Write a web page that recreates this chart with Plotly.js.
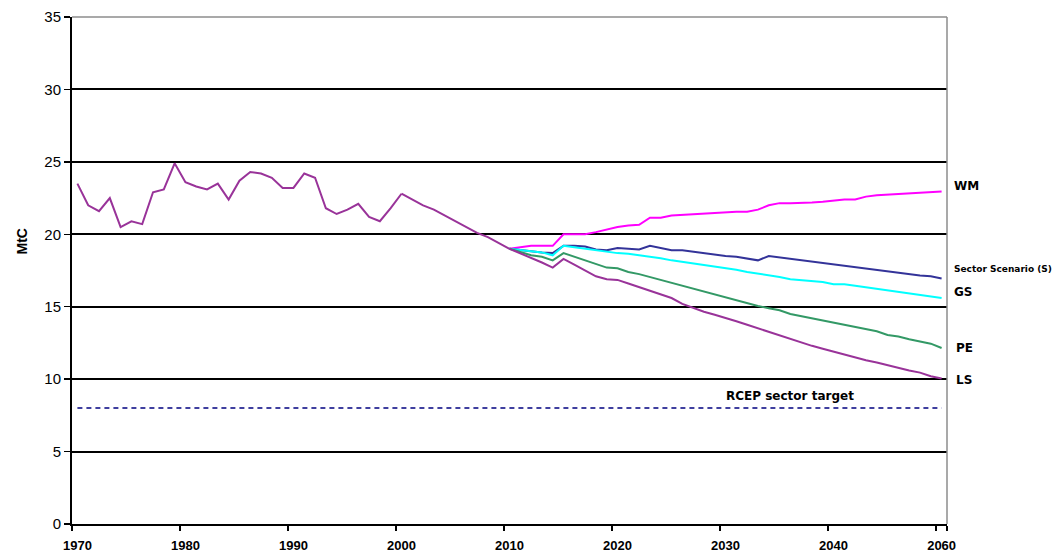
<!DOCTYPE html>
<html>
<head>
<meta charset="utf-8">
<script src="https://cdn.plot.ly/plotly-3.0.1.min.js"></script>
<style>
  html, body { margin: 0; padding: 0; background: #fff; }
  #chart { width: 1058px; height: 558px; }
</style>
</head>
<body>
<div id="chart"></div>
<script>
// Category years: annual to 2040, then every second year to 2060
const years = [
  1970, 1971, 1972, 1973, 1974, 1975, 1976, 1977, 1978, 1979,
  1980, 1981, 1982, 1983, 1984, 1985, 1986, 1987, 1988, 1989,
  1990, 1991, 1992, 1993, 1994, 1995, 1996, 1997, 1998, 1999,
  2000, 2001, 2002, 2003, 2004, 2005, 2006, 2007, 2008, 2009,
  2010, 2011, 2012, 2013, 2014, 2015, 2016, 2017, 2018, 2019,
  2020, 2021, 2022, 2023, 2024, 2025, 2026, 2027, 2028, 2029,
  2030, 2031, 2032, 2033, 2034, 2035, 2036, 2037, 2038, 2039,
  2040, 2042, 2044, 2046, 2048, 2050, 2052, 2054, 2056, 2058, 2060
];

const tickYears = [1970, 1980, 1990, 2000, 2010, 2020, 2030, 2040, 2060];

// Historic emissions, 1970-2000 (MtC)
const historic = [
  23.5, 22.0, 21.6, 22.5, 20.5, 20.9, 20.7, 22.9, 23.1, 24.9,
  23.6, 23.3, 23.1, 23.5, 22.4, 23.7, 24.3, 24.2, 23.9, 23.2,
  23.2, 24.2, 23.9, 21.8, 21.4, 21.7, 22.1, 21.2, 20.9, 21.8,
  22.8
];

// Common trend 2000-2010, continued by the LS scenario
const trend = [22.8, 22.4, 22.0, 21.7, 21.3, 20.9, 20.5, 20.1, 19.8, 19.4, 19.0];

// Scenario projections, 2010-2060 (same years as the categories from 2010 on)
const scenarioWM = [
  19.0, 19.1, 19.2, 19.2, 19.2, 20.0, 20.0, 20.0, 20.15, 20.35,
  20.5, 20.6, 20.65, 21.15, 21.15, 21.3, 21.35, 21.4, 21.45, 21.45,
  21.55, 21.55, 21.55, 21.7, 22.0, 22.15, 22.15, 22.15, 22.2, 22.25,
  22.35, 22.4, 22.4, 22.6, 22.7, 22.75, 22.75, 22.8, 22.85, 22.95, 22.95
];
const scenarioSector = [
  19.0, 18.9, 18.8, 18.75, 18.7, 19.2, 19.2, 19.15, 18.95, 18.9,
  19.05, 19.0, 18.95, 19.2, 19.05, 18.9, 18.9, 18.8, 18.65, 18.55,
  18.5, 18.45, 18.35, 18.2, 18.5, 18.4, 18.3, 18.2, 18.1, 18.0,
  17.95, 17.8, 17.7, 17.65, 17.55, 17.4, 17.35, 17.25, 17.15, 17.1, 16.95
];
const scenarioGS = [
  19.0, 18.9, 18.8, 18.75, 18.55, 19.2, 19.1, 19.0, 18.9, 18.75,
  18.7, 18.65, 18.55, 18.5, 18.35, 18.2, 18.1, 18.0, 17.9, 17.75,
  17.65, 17.55, 17.4, 17.3, 17.2, 17.05, 16.9, 16.85, 16.75, 16.7,
  16.55, 16.55, 16.45, 16.35, 16.2, 16.1, 16.0, 15.9, 15.85, 15.75, 15.6
];
const scenarioPE = [
  19.0, 18.75, 18.55, 18.45, 18.2, 18.7, 18.45, 18.2, 17.95, 17.7,
  17.65, 17.4, 17.25, 17.05, 16.85, 16.6, 16.4, 16.2, 16.05, 15.8,
  15.6, 15.4, 15.25, 15.05, 14.9, 14.75, 14.5, 14.35, 14.2, 14.0,
  13.85, 13.7, 13.6, 13.45, 13.3, 13.05, 12.95, 12.75, 12.6, 12.45, 12.15
];
const scenarioLS = [
  19.0, 18.7, 18.4, 18.05, 17.7, 18.3, 17.9, 17.5, 17.1, 16.9,
  16.85, 16.6, 16.35, 16.1, 15.8, 15.6, 15.2, 14.9, 14.65, 14.45,
  14.25, 14.0, 13.75, 13.5, 13.3, 13.05, 12.8, 12.55, 12.3, 12.1,
  11.9, 11.65, 11.5, 11.3, 11.15, 10.95, 10.75, 10.6, 10.45, 10.2, 10.05
];

const rcepTarget = 8;
const rcepLabelYear = 2036;

const seriesLabels = ['WM', 'Sector Scenario (S)', 'GS', 'PE', 'LS'];
const seriesColors = ['#ff00ff', '#333399', '#00ffff', '#339966', '#993399'];
const labelLevels = [23.3, 17.6, 16.0, 12.15, 9.95];

const cat = ys => ys.map(String);
const historicYears = years.slice(0, historic.length);
const trendYears = years.slice(historic.length - 1, historic.length - 1 + trend.length);
const projYears = years.slice(years.indexOf(2010));

const line = (color, w) => ({ color: color, width: w === undefined ? 2 : w });

const traces = [
  {
    x: cat([years[0], years[years.length - 1]]),
    y: [rcepTarget, rcepTarget],
    mode: 'lines', name: 'RCEP sector target',
    line: { color: '#000080', width: 1.5, dash: '5px,4px' }
  },
  { x: cat(projYears), y: scenarioWM, mode: 'lines', name: seriesLabels[0], line: line(seriesColors[0]) },
  { x: cat(projYears), y: scenarioSector, mode: 'lines', name: seriesLabels[1], line: line(seriesColors[1]) },
  { x: cat(projYears), y: scenarioGS, mode: 'lines', name: seriesLabels[2], line: line(seriesColors[2]) },
  { x: cat(projYears), y: scenarioPE, mode: 'lines', name: seriesLabels[3], line: line(seriesColors[3]) },
  { x: cat(projYears), y: scenarioLS, mode: 'lines', name: seriesLabels[4], line: line(seriesColors[4]) },
  { x: cat(trendYears), y: trend, mode: 'lines', name: 'Trend', line: line(seriesColors[4]) },
  { x: cat(historicYears), y: historic, mode: 'lines', name: 'Historic', line: line(seriesColors[4]) }
];

const labelFont = { family: 'DejaVu Sans', size: 12, color: '#000', weight: 'bold' };

const annotations = seriesLabels.map((t, i) => ({
  xref: 'paper', yref: 'y', x: 1, y: labelLevels[i],
  xanchor: 'left', yanchor: 'middle', xshift: i < 3 ? 5 : 7,
  text: t, showarrow: false,
  font: Object.assign({}, labelFont, { size: i === 1 ? 9 : 12 })
}));
annotations.push({
  xref: 'x', yref: 'y', x: years.indexOf(rcepLabelYear), y: rcepTarget,
  xanchor: 'center', yanchor: 'bottom', yshift: 3,
  text: 'RCEP sector target', showarrow: false, font: labelFont
});
// Vertical unit label beside the value axis
annotations.push({
  xref: 'paper', yref: 'y', x: 0, y: 19.5, xshift: -50,
  xanchor: 'center', yanchor: 'middle', textangle: -90,
  text: 'MtC', showarrow: false,
  font: { family: 'Liberation Sans', size: 14, weight: 'bold', color: '#000' }
});

const layout = {
  width: 1058, height: 558,
  margin: { l: 72, r: 111, t: 17, b: 34 },
  paper_bgcolor: '#fff', plot_bgcolor: '#fff',
  showlegend: false,
  hovermode: false,
  font: { family: 'Liberation Sans, Arial, sans-serif', color: '#000' },
  xaxis: {
    type: 'category',
    categoryorder: 'array', categoryarray: cat(years),
    range: [-0.5, years.length - 0.5],
    tickmode: 'array', tickvals: cat(tickYears), ticktext: cat(tickYears),
    tickson: 'boundaries', tickangle: 0,
    ticks: 'outside', ticklen: 5, tickwidth: 1.5, tickcolor: '#000',
    showgrid: false, zeroline: false,
    showline: true, linecolor: '#000', linewidth: 2,
    tickfont: { family: 'Liberation Sans', size: 13, weight: 'bold', color: '#000' },
    ticklabelstandoff: 8
  },
  yaxis: {
    range: [0, 35], dtick: 5, tick0: 0,
    ticks: 'outside', ticklen: 6, tickwidth: 1.5, tickcolor: '#000',
    showgrid: true, gridcolor: '#000', gridwidth: 2,
    zeroline: false,
    showline: true, linecolor: '#000', linewidth: 2,
    tickfont: { family: 'Liberation Sans', size: 15, color: '#000' }
  },
  shapes: [
    { type: 'line', xref: 'paper', yref: 'paper', x0: 0, x1: 1, y0: 1, y1: 1, line: { color: '#8c8c8c', width: 1.5 } },
    { type: 'line', xref: 'paper', yref: 'paper', x0: 1, x1: 1, y0: 0, y1: 1, line: { color: '#8c8c8c', width: 1.5 } }
  ],
  annotations: annotations
};

Plotly.newPlot('chart', traces, layout, { displayModeBar: false, staticPlot: true });
</script>
</body>
</html>
